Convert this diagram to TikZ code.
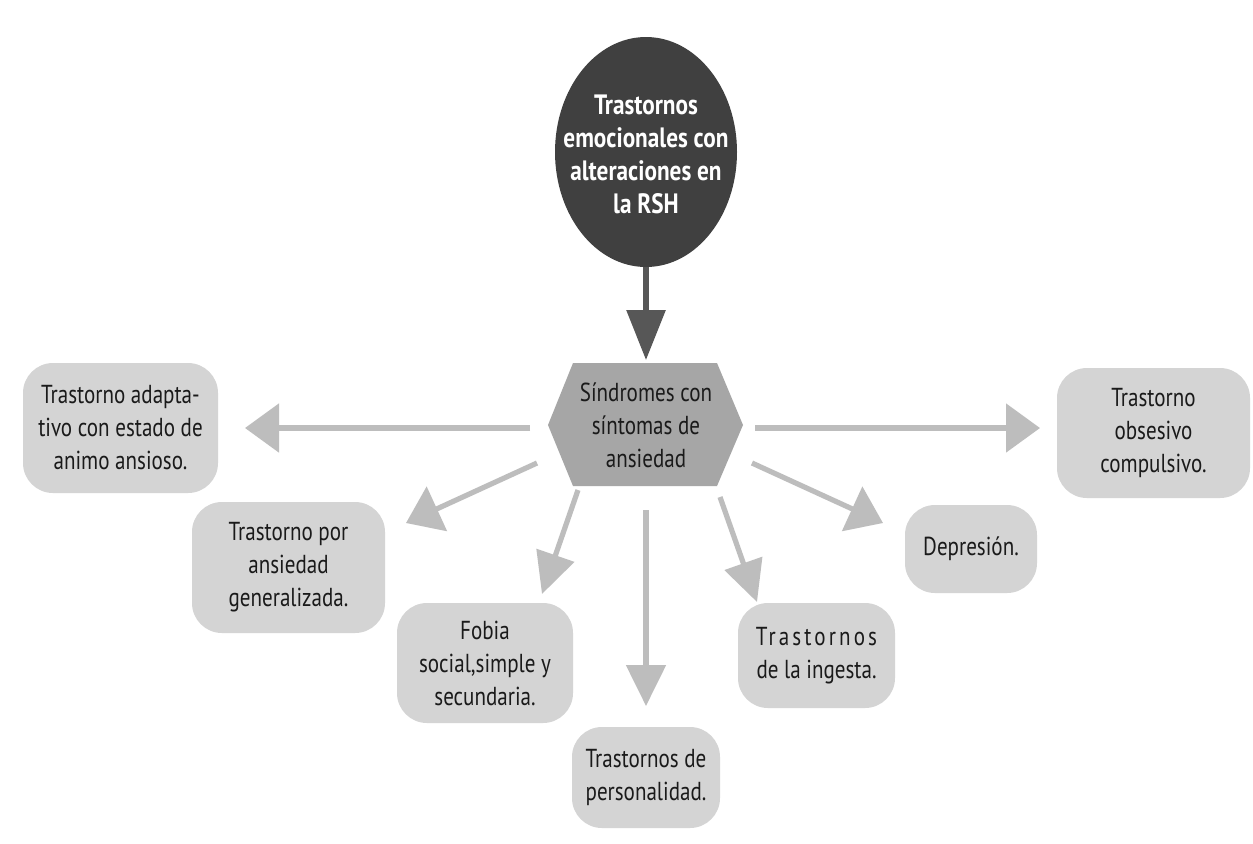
\documentclass[tikz,border=0pt]{standalone}
\usepackage{fontspec}
\setmainfont{PT Sans}[FakeStretch=0.81]
\newfontfamily\ovalfont{PT Sans}[FakeStretch=0.83]
\usetikzlibrary{arrows.meta,shapes.geometric}
\definecolor{ovalfill}{HTML}{404040}
\definecolor{toparrow}{HTML}{575757}
\definecolor{hexfill}{HTML}{A6A6A6}
\definecolor{boxfill}{HTML}{D4D4D4}
\definecolor{arrowgray}{HTML}{BDBDBD}
\definecolor{txt}{HTML}{1A1A1A}
\begin{document}
\begin{tikzpicture}[x=0.5pt,y=-0.5pt,
  lbl/.style={font=\fontsize{13}{16.5}\selectfont, text=txt, align=center, inner sep=0pt},
  boxnode/.style={lbl, fill=boxfill, rounded corners=15pt},
  lightarrow/.style={draw=arrowgray, line width=2.6pt, -{Triangle[length=17pt,width=24pt]}},
  steeparrow/.style={draw=arrowgray, line width=2.6pt, -{Triangle[length=20.5pt,width=19.5pt]}},
  darkarrow/.style={draw=toparrow, line width=3pt, -{Triangle[length=25pt,width=19pt]}}]
\useasboundingbox[fill=white] (0,0) rectangle (1253,843);

% top oval
\fill[ovalfill] (646,152) ellipse [x radius=45.5pt, y radius=57.5pt];
\node[inner sep=0pt, text=white, font=\ovalfont\bfseries\fontsize{14}{16.5}\selectfont, align=center] (top) at (646,154)
  {Trastornos\\emocionales con\\alteraciones en\\la RSH};

% hexagon
\fill[hexfill] (548,425) -- (573,363) -- (717,363) -- (743,425) -- (717,486) -- (573,486) -- cycle;
\node[lbl] (hex) at (646,425) {Síndromes con\\síntomas de\\ansiedad};

% boxes
\node[boxnode, minimum width=97.5pt, minimum height=65pt] (adapt) at (120.5,428)
  {Trastorno adapta-\\tivo con estado de\\animo ansioso.};
\node[boxnode, minimum width=96.5pt, minimum height=65pt] (toc) at (1153.5,433)
  {Trastorno\\obsesivo\\compulsivo.};
\node[boxnode, minimum width=96.5pt, minimum height=65.5pt] (tag) at (288.5,567.5)
  {Trastorno por\\ansiedad\\generalizada.};
\node[boxnode, minimum width=88pt, minimum height=60pt] (fobia) at (485,663)
  {Fobia\\social,simple y\\secundaria.};
\node[boxnode, minimum width=74pt, minimum height=50.5pt] (pers) at (646,777.5)
  {Trastornos de\\personalidad.};
\node[boxnode, minimum width=78.5pt, minimum height=52.5pt] (ing) at (816.5,655.5)
  {{\addfontfeature{LetterSpace=12}Trastornos}\\de la ingesta.};
\node[boxnode, minimum width=66pt, minimum height=44pt] (dep) at (971,549)
  {Depresión.};

% arrow end points
\coordinate (t0) at (646,267);  \coordinate (h0) at (646,360);
\coordinate (t1) at (530,428);  \coordinate (h1) at (245,428);
\coordinate (t2) at (755,428);  \coordinate (h2) at (1040,428);
\coordinate (t3) at (537,463);  \coordinate (h3) at (406,523);
\coordinate (t4) at (578,490);  \coordinate (h4) at (542,594);
\coordinate (t5) at (646,510);  \coordinate (h5) at (646,706);
\coordinate (t6) at (720,497);  \coordinate (h6) at (757,602);
\coordinate (t7) at (752,463);  \coordinate (h7) at (883,523);

\draw[darkarrow] (t0) -- (h0);
\draw[lightarrow] (t1) -- (h1);
\draw[lightarrow] (t2) -- (h2);
\draw[lightarrow] (t3) -- (h3);
\draw[steeparrow] (t4) -- (h4);
\draw[steeparrow] (t5) -- (h5);
\draw[steeparrow] (t6) -- (h6);
\draw[lightarrow] (t7) -- (h7);
\end{tikzpicture}
\end{document}
